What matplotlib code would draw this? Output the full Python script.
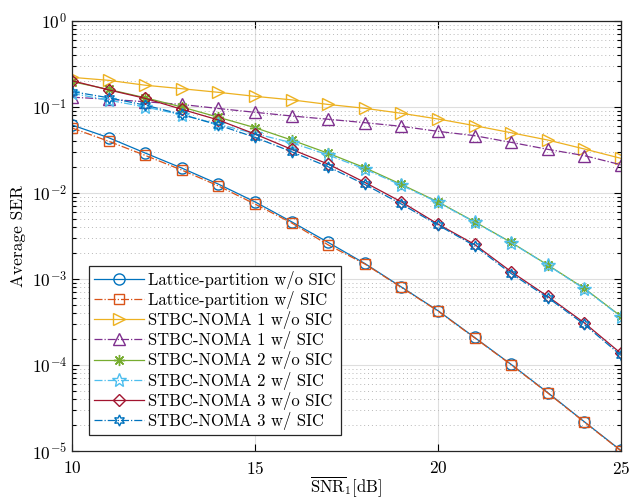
import numpy as np
import matplotlib
matplotlib.use('Agg')
import matplotlib.pyplot as plt

# Average SER vs SNR
snr = np.arange(10, 26)  # [dB]

lattice_wo = [0.0618, 0.044, 0.0292, 0.0195, 0.0127, 0.0079, 0.00464, 0.00267,
              0.00152, 8.1e-4, 4.3e-4, 2.1e-4, 1.02e-4, 4.8e-5, 2.2e-5, 1.02e-5]
lattice_w = [0.057, 0.040, 0.0274, 0.0185, 0.0121, 0.00745, 0.0045, 0.0025,
             0.00150, 8.0e-4, 4.25e-4, 2.08e-4, 1.01e-4, 4.75e-5, 2.18e-5, 1.01e-5]
noma1_wo = [0.221, 0.204, 0.179, 0.163, 0.148, 0.133, 0.121, 0.107,
            0.0965, 0.0845, 0.0725, 0.0607, 0.0502, 0.0413, 0.0325, 0.0253]
noma1_w = [0.130, 0.123, 0.115, 0.107, 0.096, 0.0867, 0.0786, 0.072,
           0.0657, 0.0596, 0.0521, 0.0464, 0.0388, 0.0322, 0.0272, 0.0213]
noma2_wo = [0.197, 0.16, 0.128, 0.10, 0.076, 0.0575, 0.0413, 0.029,
            0.0197, 0.0126, 0.0079, 0.00464, 0.00267, 0.00146, 7.8e-4, 3.7e-4]
noma2_w = [0.144, 0.12, 0.10, 0.081, 0.063, 0.049, 0.0385, 0.0277,
           0.019, 0.0123, 0.0078, 0.0046, 0.00265, 0.00145, 7.7e-4, 3.65e-4]
noma3_wo = [0.202, 0.158, 0.126, 0.094, 0.0706, 0.0485, 0.0322, 0.0217,
            0.0133, 0.0079, 0.00436, 0.00253, 0.00122, 6.3e-4, 3.1e-4, 1.37e-4]
noma3_w = [0.151, 0.128, 0.105, 0.082, 0.0617, 0.0444, 0.0302, 0.0202,
           0.0126, 0.00745, 0.00425, 0.00244, 0.00116, 6.1e-4, 2.97e-4, 1.3e-4]

plt.rcParams['font.family'] = 'serif'
plt.rcParams['font.serif'] = ['cmr10']
plt.rcParams['mathtext.fontset'] = 'cm'
plt.rcParams['axes.formatter.use_mathtext'] = True

fig = plt.figure(figsize=(6.31, 4.98), dpi=100)
ax = fig.add_axes([0.114, 0.094, 0.870, 0.864])

series = [
    (lattice_wo, '#0072BD', '-', 'o', 'Lattice-partition w/o SIC'),
    (lattice_w, '#D95319', '-.', 's', 'Lattice-partition w/ SIC'),
    (noma1_wo, '#EDB120', '-', '>', 'STBC-NOMA 1 w/o SIC'),
    (noma1_w, '#7E2F8E', '-.', '^', 'STBC-NOMA 1 w/ SIC'),
    (noma2_wo, '#77AC30', '-', (8, 2, 0), 'STBC-NOMA 2 w/o SIC'),
    (noma2_w, '#4DBEEE', '-.', '*', 'STBC-NOMA 2 w/ SIC'),
    (noma3_wo, '#A2142F', '-', 'D', 'STBC-NOMA 3 w/o SIC'),
    (noma3_w, '#0072BD', '-.', (6, 1, 0), 'STBC-NOMA 3 w/ SIC'),
]
for vals, col, ls, mk, lab in series:
    ms = 8
    if mk == 'D':
        ms = 6.5
    if mk == 's':
        ms = 6.5
    if mk == '*':
        ms = 10
    ax.semilogy(snr, vals, color=col, linestyle=ls, marker=mk, markersize=ms,
                markerfacecolor='none', markeredgecolor=col, markeredgewidth=1.0,
                linewidth=0.9, label=lab)

ax.set_xlim(10, 25)
ax.set_ylim(1e-5, 1)
ax.set_xticks([10, 15, 20, 25])
ax.xaxis.set_minor_locator(matplotlib.ticker.NullLocator())
ax.set_yticks([1e-5, 1e-4, 1e-3, 1e-2, 1e-1, 1])
ax.yaxis.set_minor_locator(matplotlib.ticker.LogLocator(base=10, subs=np.arange(2, 10), numticks=20))
ax.yaxis.set_minor_formatter(matplotlib.ticker.NullFormatter())

ax.tick_params(which='both', direction='in', top=True, right=True, labelsize=12.5, width=0.8)
ax.tick_params(which='major', length=5)
ax.tick_params(which='minor', length=3)
ax.tick_params(axis='x', pad=6)
ax.grid(which='major', color='#dedede', linestyle='-', linewidth=0.8)
ax.grid(which='minor', axis='y', color='#b8b8b8', linestyle=(0, (1, 3)), linewidth=0.7)
ax.set_axisbelow(True)
for sp in ax.spines.values():
    sp.set_linewidth(0.9)
    sp.set_color('#262626')

ax.set_xlabel(r'$\overline{\mathrm{SNR}}_1[\mathrm{dB}]$', fontsize=12, labelpad=-2)
ax.set_ylabel('Average SER', fontsize=12.5, labelpad=4)

leg = ax.legend(loc='lower left', bbox_to_anchor=(0.031, 0.038), fontsize=12,
                fancybox=False, framealpha=1, edgecolor='#262626',
                handlelength=3.0, handletextpad=0.25, labelspacing=0.13,
                borderpad=0.3, borderaxespad=0)
leg.get_frame().set_linewidth(0.9)

fig.savefig('out.png', dpi=100)
